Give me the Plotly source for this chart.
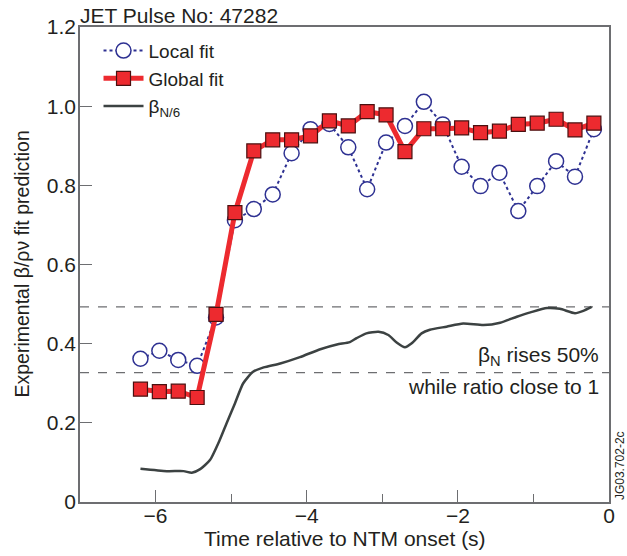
import plotly.graph_objects as go

# Data
fit_time = [-6.2, -5.95, -5.7, -5.45, -5.2, -4.95, -4.7, -4.45, -4.2, -3.95, -3.7, -3.45,
            -3.2, -2.95, -2.7, -2.45, -2.2, -1.95, -1.7, -1.45, -1.2, -0.95, -0.7, -0.45, -0.2]
local_fit = [0.362, 0.382, 0.359, 0.344, 0.466, 0.712, 0.740, 0.777, 0.881, 0.942, 0.955, 0.896,
             0.790, 0.908, 0.950, 1.011, 0.954, 0.847, 0.798, 0.832, 0.735, 0.798, 0.861, 0.822, 0.942]
global_fit = [0.285, 0.279, 0.280, 0.264, 0.474, 0.731, 0.887, 0.915, 0.915, 0.925, 0.963, 0.950,
              0.986, 0.978, 0.885, 0.943, 0.943, 0.945, 0.933, 0.937, 0.954, 0.957, 0.967, 0.940, 0.957]

beta_time = [-6.2, -5.85, -5.63, -5.52, -5.41, -5.28, -5.15, -5.06, -4.95, -4.84, -4.71, -4.57,
             -4.35, -4.09, -3.82, -3.60, -3.43, -3.34, -3.21, -3.05, -2.92, -2.81, -2.70, -2.61,
             -2.48, -2.37, -2.15, -1.93, -1.66, -1.44, -1.22, -1.04, -0.82, -0.65, -0.45, -0.34, -0.23]
beta_n6 = [0.084, 0.078, 0.078, 0.074, 0.083, 0.106, 0.157, 0.199, 0.249, 0.300, 0.329, 0.340,
           0.350, 0.366, 0.386, 0.398, 0.404, 0.414, 0.426, 0.430, 0.422, 0.403, 0.391, 0.401,
           0.426, 0.435, 0.443, 0.451, 0.447, 0.453, 0.468, 0.479, 0.490, 0.488, 0.477, 0.483, 0.493]

ref_levels = [0.493, 0.327]

x_tickvals = [-6, -4, -2, 0]
x_ticktext = ["\u22126", "\u22124", "\u22122", "0"]
y_tickvals = [0, 0.2, 0.4, 0.6, 0.8, 1.0, 1.2]
y_ticktext = ["0", "0.2", "0.4", "0.6", "0.8", "1.0", "1.2"]

FONT = "Liberation Sans, Arial, sans-serif"
TXT = "#231f20"
AX = "#6d6e71"

fig = go.Figure()

fig.add_trace(go.Scatter(
    x=fit_time, y=local_fit, mode="lines+markers", name="Local fit",
    line=dict(color="#2e3192", width=2, dash="dot"),
    marker=dict(symbol="circle", size=15, color="white", line=dict(width=1.5, color="#2e3192")),
))
fig.add_trace(go.Scatter(
    x=fit_time, y=global_fit, mode="lines+markers", name="Global fit",
    line=dict(color="#ed2a2f", width=5),
    marker=dict(symbol="square", size=14, color="#ed2a2f", line=dict(width=1.2, color="#4a1010")),
))
fig.add_trace(go.Scatter(
    x=beta_time, y=beta_n6, mode="lines", name="\u03b2<sub>N/6</sub>",
    line=dict(color="#3c4242", width=2.5, shape="spline", smoothing=0.6),
))

for lvl in ref_levels:
    fig.add_shape(type="line", xref="paper", x0=0, x1=1, yref="y", y0=lvl, y1=lvl,
                  line=dict(color="#6d6e71", width=1.3, dash="dash"), layer="below")

fig.add_annotation(xref="paper", yref="y", x=0.985, y=0.368, xanchor="right", yanchor="middle",
                   text="\u03b2<sub>N</sub> rises 50%", showarrow=False,
                   font=dict(family=FONT, size=21, color=TXT))
fig.add_annotation(xref="paper", yref="y", x=0.985, y=0.293, xanchor="right", yanchor="middle",
                   text="while ratio close to 1", showarrow=False,
                   font=dict(family=FONT, size=21, color=TXT))
fig.add_annotation(xref="paper", yref="paper", x=1.003, y=0.0, xanchor="left", yanchor="bottom",
                   text="JG03.702-2c", textangle=-90, showarrow=False,
                   font=dict(family=FONT, size=12, color=TXT))
fig.add_annotation(xref="paper", yref="paper", x=-0.003, y=1.0, xanchor="left", yanchor="bottom",
                   text="JET Pulse No: 47282", showarrow=False, yshift=-2,
                   font=dict(family=FONT, size=21, color=TXT))
# x-axis title placed as annotation for exact position
fig.add_annotation(xref="paper", yref="paper", x=0.5, y=0, xanchor="center", yanchor="middle",
                   text="Time relative to NTM onset (s)", showarrow=False, yshift=-36,
                   font=dict(family=FONT, size=21, color=TXT))
# y-axis title placed as annotation for exact position
fig.add_annotation(xref="paper", yref="paper", x=0, y=0.5, xanchor="center", yanchor="middle",
                   text="Experimental \u03b2/\u03c1\u03bd fit prediction", textangle=-90,
                   showarrow=False, xshift=-59,
                   font=dict(family=FONT, size=19.5, color=TXT))

fig.update_layout(
    width=627, height=556,
    margin=dict(l=80, r=18, t=27, b=54, autoexpand=False),
    plot_bgcolor="white", paper_bgcolor="white",
    font=dict(family=FONT, size=18, color=TXT),
    showlegend=True,
    legend=dict(x=0.035, y=0.99, xanchor="left", yanchor="top", bgcolor="rgba(0,0,0,0)",
                font=dict(family=FONT, size=19, color=TXT), tracegroupgap=0, itemwidth=40),
    xaxis=dict(range=[-7, 0], tickvals=x_tickvals, ticktext=x_ticktext, automargin=False,
               ticks="inside", ticklen=12, tickwidth=1.2, tickcolor=AX, ticklabelstandoff=-6,
               minor=dict(tickvals=[-7, -5, -3, -1], ticks="inside", ticklen=8, tickwidth=1.2, tickcolor=AX),
               showline=True, linecolor=AX, linewidth=1.5, mirror=True, showgrid=False, zeroline=False,
               tickfont=dict(family=FONT, size=21, color=TXT)),
    yaxis=dict(range=[0, 1.2], tickvals=y_tickvals, ticktext=y_ticktext, automargin=False,
               ticks="inside", ticklen=12, tickwidth=1.2, tickcolor=AX, ticklabelstandoff=-2,
               showline=True, linecolor=AX, linewidth=1.5, mirror=True, showgrid=False, zeroline=False,
               tickfont=dict(family=FONT, size=21, color=TXT)),
)

fig.write_html("out.html")
